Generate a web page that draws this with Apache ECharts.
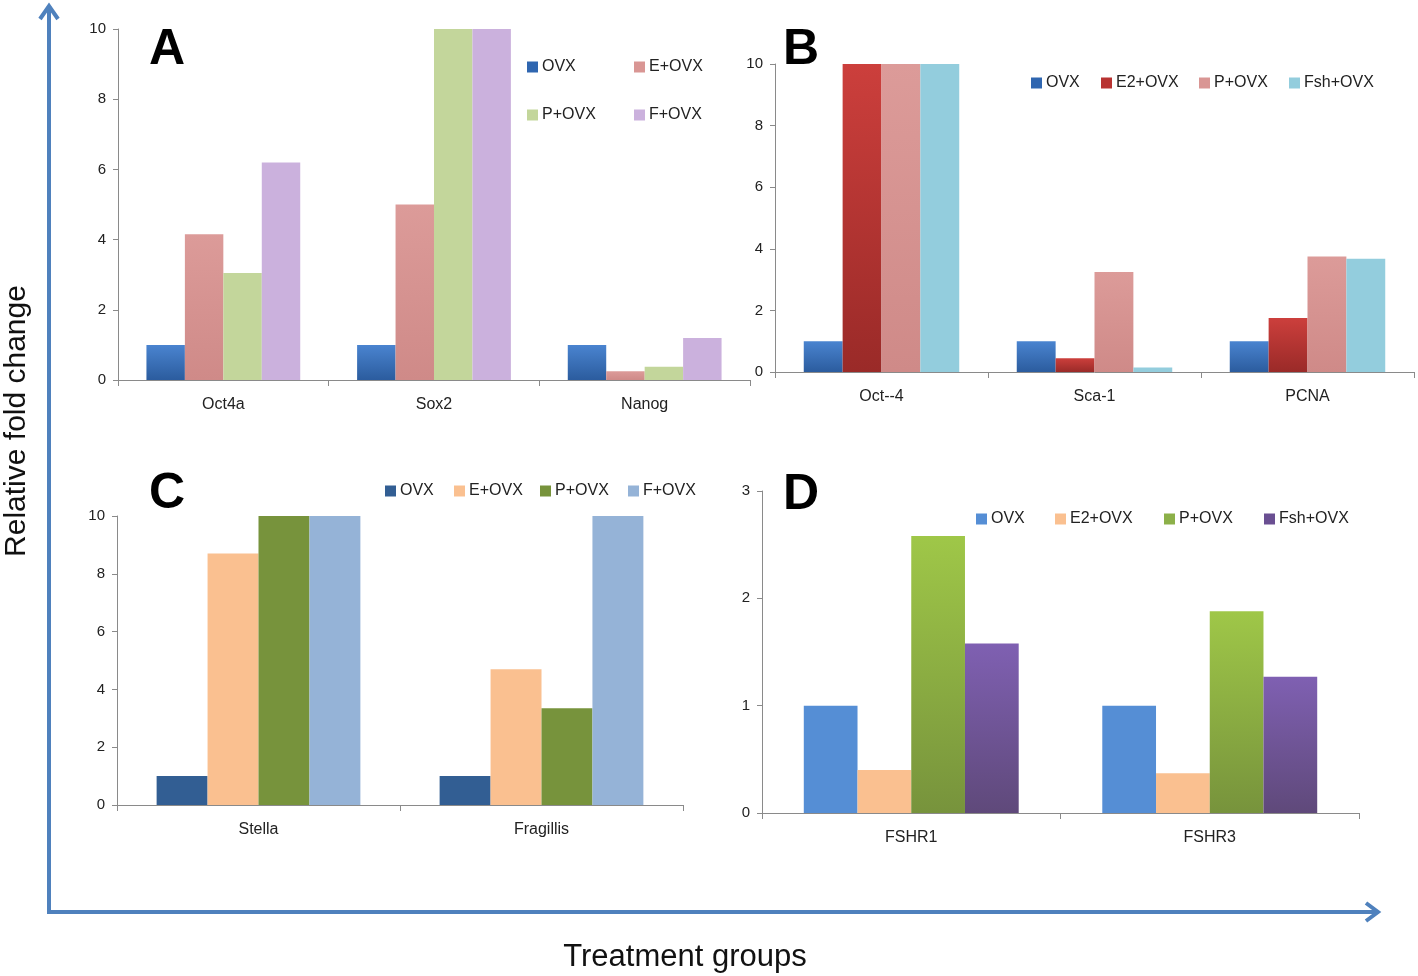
<!DOCTYPE html>
<html>
<head>
<meta charset="utf-8">
<script src="https://cdn.jsdelivr.net/npm/echarts@6/dist/echarts.min.js"></script>
<style>
  html, body { margin: 0; padding: 0; background: #fff; }
  #main { width: 1418px; height: 976px; }
</style>
</head>
<body>
<div id="main"></div>
<script>
// ---- data ----
const catsA = ['Oct4a', 'Sox2', 'Nanog'];
const namesA = ['OVX', 'E+OVX', 'P+OVX', 'F+OVX'];
const ovxA = [1, 1, 1];
const eA = [4.15, 5.0, 0.25];
const pA = [3.05, 10, 0.38];
const fA = [6.2, 10, 1.2];

const catsB = ['Oct--4', 'Sca-1', 'PCNA'];
const namesB = ['OVX', 'E2+OVX', 'P+OVX', 'Fsh+OVX'];
const ovxB = [1, 1, 1];
const e2B = [10, 0.45, 1.75];
const pB = [10, 3.25, 3.75];
const fshB = [10, 0.15, 3.68];

const catsC = ['Stella', 'Fragillis'];
const namesC = ['OVX', 'E+OVX', 'P+OVX', 'F+OVX'];
const ovxC = [1, 1];
const eC = [8.7, 4.7];
const pC = [10, 3.35];
const fC = [10, 10];

const catsD = ['FSHR1', 'FSHR3'];
const namesD = ['OVX', 'E2+OVX', 'P+OVX', 'Fsh+OVX'];
const ovxD = [1, 1];
const e2D = [0.4, 0.37];
const pD = [2.58, 1.88];
const fshD = [1.58, 1.27];

// ---- styling ----
const FONT = "'Liberation Sans Narrow', 'Liberation Sans', Arial, sans-serif";
const AXIS_GREY = '#8a8a8a';

function grad(top, bottom) {
  return new echarts.graphic.LinearGradient(0, 0, 0, 1, [
    { offset: 0, color: top },
    { offset: 1, color: bottom }
  ]);
}

let chart = echarts.init(document.getElementById('main'), null, { renderer: 'canvas' });

let grids = [], xAxes = [], yAxes = [], series = [], legends = [];

function addPanel(p) {
  let idx = grids.length;
  grids.push({ left: p.box[0], top: p.box[1], width: p.box[2], height: p.box[3], containLabel: false });
  xAxes.push({
    type: 'category', gridIndex: idx, data: p.cats,
    axisLine: { lineStyle: { color: AXIS_GREY, width: 1 } },
    axisTick: { show: true, length: 6, lineStyle: { color: AXIS_GREY } },
    axisLabel: { fontFamily: FONT, fontSize: 16, color: '#222', margin: 17 }
  });
  yAxes.push({
    type: 'value', gridIndex: idx, min: 0, max: p.max, interval: p.interval,
    splitLine: { show: false },
    axisLine: { show: true, lineStyle: { color: AXIS_GREY, width: 1 } },
    axisTick: { show: true, length: 5, lineStyle: { color: AXIS_GREY } },
    axisLabel: { fontFamily: FONT, fontSize: 15, color: '#222', margin: 12 }
  });
  p.values.forEach(function (vals, k) {
    series.push({
      type: 'bar', name: p.names[k], xAxisIndex: idx, yAxisIndex: idx,
      data: vals, barGap: '0%', barCategoryGap: p.gap,
      itemStyle: { color: p.colors[k] },
      animation: false
    });
  });
  p.names.forEach(function (nm, k) {
    legends.push({
      left: p.legendPos[k][0], top: p.legendPos[k][1],
      itemWidth: 11, itemHeight: 11, icon: 'rect',
      selectedMode: false,
      textStyle: { fontFamily: FONT, fontSize: 16, color: '#222', padding: [0, 0, 0, -1] },
      data: [{ name: nm, itemStyle: { color: p.legendColors[k] } }]
    });
  });
}

addPanel({
  box: [118, 29, 632, 351], cats: catsA, names: namesA, max: 10, interval: 2, gap: '27%',
  values: [ovxA, eA, pA, fA],
  colors: [grad('#4a84d0', '#2b5c9e'), grad('#dc9b99', '#cf8a88'), '#c3d69b', '#cbb1dd'],
  legendColors: ['#2f66b0', '#d99694', '#c3d69b', '#cbb1dd'],
  legendPos: [[522, 54], [629, 54], [522, 102], [629, 102]]
});
addPanel({
  box: [775, 64, 639, 308], cats: catsB, names: namesB, max: 10, interval: 2, gap: '27%',
  values: [ovxB, e2B, pB, fshB],
  colors: [grad('#4a84d0', '#2b5c9e'), grad('#cc3f3c', '#9a2a28'), grad('#dc9b99', '#cf8a88'), '#93cddd'],
  legendColors: ['#2f66b0', '#b83331', '#d99694', '#93cddd'],
  legendPos: [[1026, 70], [1096, 70], [1194, 70], [1284, 70]]
});
addPanel({
  box: [117, 516, 566, 289], cats: catsC, names: namesC, max: 10, interval: 2, gap: '28%',
  values: [ovxC, eC, pC, fC],
  colors: ['#325e93', '#fac090', '#77933c', '#95b3d7'],
  legendColors: ['#325e93', '#fac090', '#77933c', '#95b3d7'],
  legendPos: [[380, 478], [449, 478], [535, 478], [623, 478]]
});
addPanel({
  box: [762, 491, 597, 322], cats: catsD, names: namesD, max: 3, interval: 1, gap: '28%',
  values: [ovxD, e2D, pD, fshD],
  colors: ['#558ed5', '#fac090', grad('#9fc748', '#77933c'), grad('#7f60b2', '#5f497a')],
  legendColors: ['#558ed5', '#fac090', '#8cb049', '#6a4f92'],
  legendPos: [[971, 506], [1050, 506], [1159, 506], [1259, 506]]
});

const ARROW = '#4f81bd';
const LETTER_FONT = "bold 50px 'Liberation Sans', Arial, sans-serif";

let option = {
  backgroundColor: '#fff',
  animation: false,
  grid: grids, xAxis: xAxes, yAxis: yAxes, series: series, legend: legends,
  graphic: [
    // big axis arrows
    { type: 'line', shape: { x1: 49, y1: 913, x2: 49, y2: 6 }, style: { stroke: ARROW, lineWidth: 4 } },
    { type: 'polyline', shape: { points: [[40, 19], [49, 6], [58, 19]] }, style: { stroke: ARROW, lineWidth: 4, fill: null } },
    { type: 'line', shape: { x1: 47, y1: 912, x2: 1378, y2: 912 }, style: { stroke: ARROW, lineWidth: 4 } },
    { type: 'polyline', shape: { points: [[1366, 903], [1378, 912], [1366, 921]] }, style: { stroke: ARROW, lineWidth: 4, fill: null } },
    // titles
    { type: 'text', x: 17, y: 421, rotation: Math.PI / 2,
      style: { text: 'Relative fold change', font: "30px " + FONT, fill: '#111', align: 'center', verticalAlign: 'middle' } },
    { type: 'text', x: 685, y: 957,
      style: { text: 'Treatment groups', font: "31px " + FONT, fill: '#111', align: 'center', verticalAlign: 'middle' } },
    // panel letters
    { type: 'text', x: 167, y: 50, style: { text: 'A', font: LETTER_FONT, fill: '#000', align: 'center', verticalAlign: 'middle' } },
    { type: 'text', x: 801, y: 50, style: { text: 'B', font: LETTER_FONT, fill: '#000', align: 'center', verticalAlign: 'middle' } },
    { type: 'text', x: 167, y: 494, style: { text: 'C', font: LETTER_FONT, fill: '#000', align: 'center', verticalAlign: 'middle' } },
    { type: 'text', x: 801, y: 495, style: { text: 'D', font: LETTER_FONT, fill: '#000', align: 'center', verticalAlign: 'middle' } }
  ]
};

chart.setOption(option);
</script>
</body>
</html>
